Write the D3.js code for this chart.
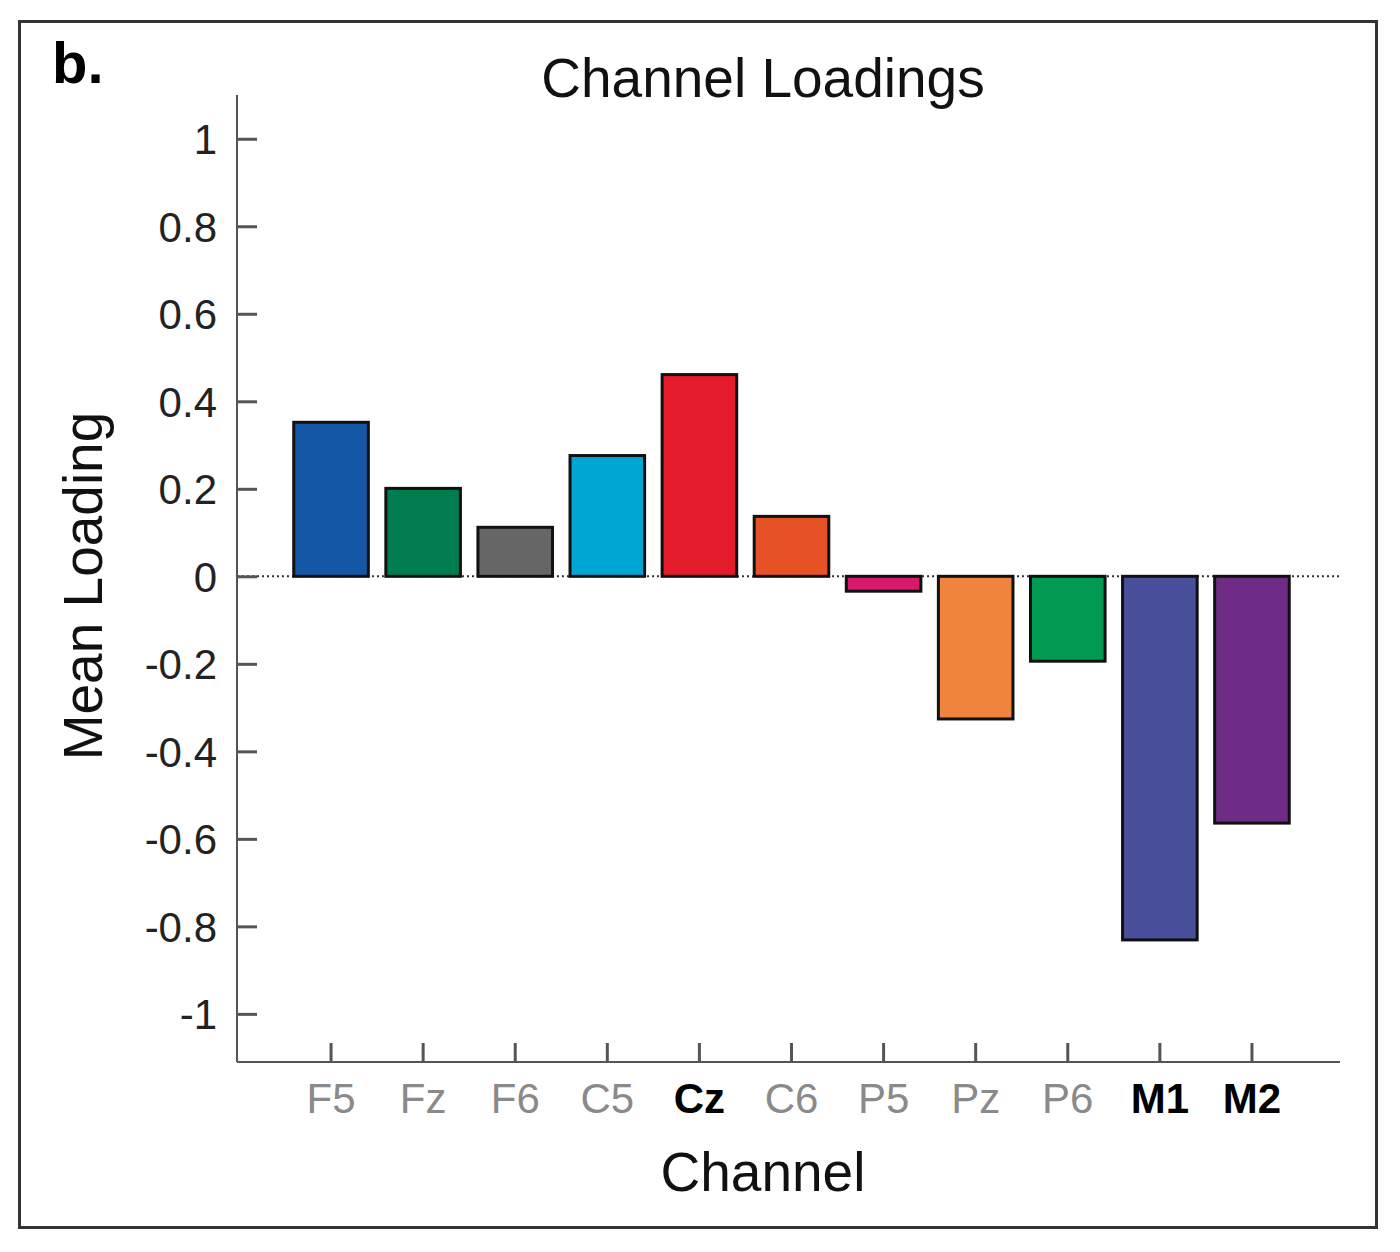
<!DOCTYPE html>
<html><head><meta charset="utf-8">
<script src="https://cdn.jsdelivr.net/npm/d3@7"></script>
<style>body{margin:0;background:#fff;} svg{display:block;font-family:"Liberation Sans",Arial,sans-serif;}</style>
</head><body>
<script>
const channels = ["F5","Fz","F6","C5","Cz","C6","P5","Pz","P6","M1","M2"];
const loadings = [0.352, 0.201, 0.112, 0.276, 0.461, 0.137, -0.034, -0.326, -0.194, -0.831, -0.564];
const barColors = ["#1357a6","#007d4f","#666666","#00a6d3","#e31b2b","#e65226","#d9196b","#f0843c","#009a50","#4a4f9c","#6e2c87"];
const boldChannels = ["Cz","M1","M2"];
const yTicks = [1, 0.8, 0.6, 0.4, 0.2, 0, -0.2, -0.4, -0.6, -0.8, -1];

const W = 1400, H = 1252;
const svg = d3.select("body").append("svg").attr("width", W).attr("height", H);

// frame
svg.append("rect").attr("x",19.5).attr("y",21.5).attr("width",1357).attr("height",1206)
  .attr("fill","none").attr("stroke","#333").attr("stroke-width",3);

const x = d3.scaleBand().domain(channels).range([285,1298]).paddingInner(0.19).paddingOuter(0.095);
const y = d3.scaleLinear().domain([-1.11,1.1]).range([1062,95]);
const axL = 237, axR = 1340;

// zero dotted line
svg.append("line").attr("x1",axL).attr("x2",axR).attr("y1",y(0)).attr("y2",y(0))
  .attr("stroke","#333").attr("stroke-width",2).attr("stroke-dasharray","2,3");

// bars
svg.append("g").selectAll("rect").data(channels).join("rect")
  .attr("x", d => x(d))
  .attr("width", x.bandwidth())
  .attr("y", (d,i) => y(Math.max(0, loadings[i])))
  .attr("height", (d,i) => Math.abs(y(loadings[i]) - y(0)))
  .attr("fill", (d,i) => barColors[i])
  .attr("stroke","#111").attr("stroke-width",3);

// y axis
const yAxis = d3.axisRight(y).tickValues(yTicks).tickSize(20).tickFormat(d => String(d));
const gy = svg.append("g").attr("transform",`translate(${axL},0)`).call(yAxis);
gy.select(".domain").attr("stroke","#555").attr("stroke-width",2).attr("d",`M0,${y.range()[1]}V${y.range()[0]}`);
gy.selectAll(".tick line").attr("stroke","#555").attr("stroke-width",3);
gy.selectAll(".tick text").attr("x",-20).attr("text-anchor","end").attr("dy","0.36em")
  .attr("font-size",42).attr("fill","#222");

// x axis
const xAxis = d3.axisBottom(x).tickSize(-19).tickPadding(0);
const gx = svg.append("g").attr("transform",`translate(0,${y.range()[0]})`).call(xAxis);
gx.select(".domain").attr("stroke","#555").attr("stroke-width",2).attr("d",`M${axL},0H${axR}`);
gx.selectAll(".tick line").attr("stroke","#555").attr("stroke-width",3);
gx.selectAll(".tick text").attr("y",51).attr("dy",0).attr("font-size",42)
  .attr("fill", d => boldChannels.includes(d) ? "#000" : "#8a8a8a")
  .attr("font-weight", d => boldChannels.includes(d) ? "bold" : "normal");
svg.selectAll(".domain").attr("fill","none");

// title
svg.append("text").attr("x",763).attr("y",97).attr("text-anchor","middle")
  .attr("font-size",55).attr("fill","#111").text("Channel Loadings");
// panel letter
svg.append("text").attr("x",52).attr("y",83).attr("font-size",58).attr("font-weight","bold")
  .attr("fill","#000").text("b.");
// axis labels
svg.append("text").attr("x",763).attr("y",1191).attr("text-anchor","middle")
  .attr("font-size",55).attr("fill","#111").text("Channel");
svg.append("text").attr("transform","translate(102,586) rotate(-90)").attr("text-anchor","middle")
  .attr("font-size",55).attr("fill","#111").text("Mean Loading");
</script>
</body></html>
